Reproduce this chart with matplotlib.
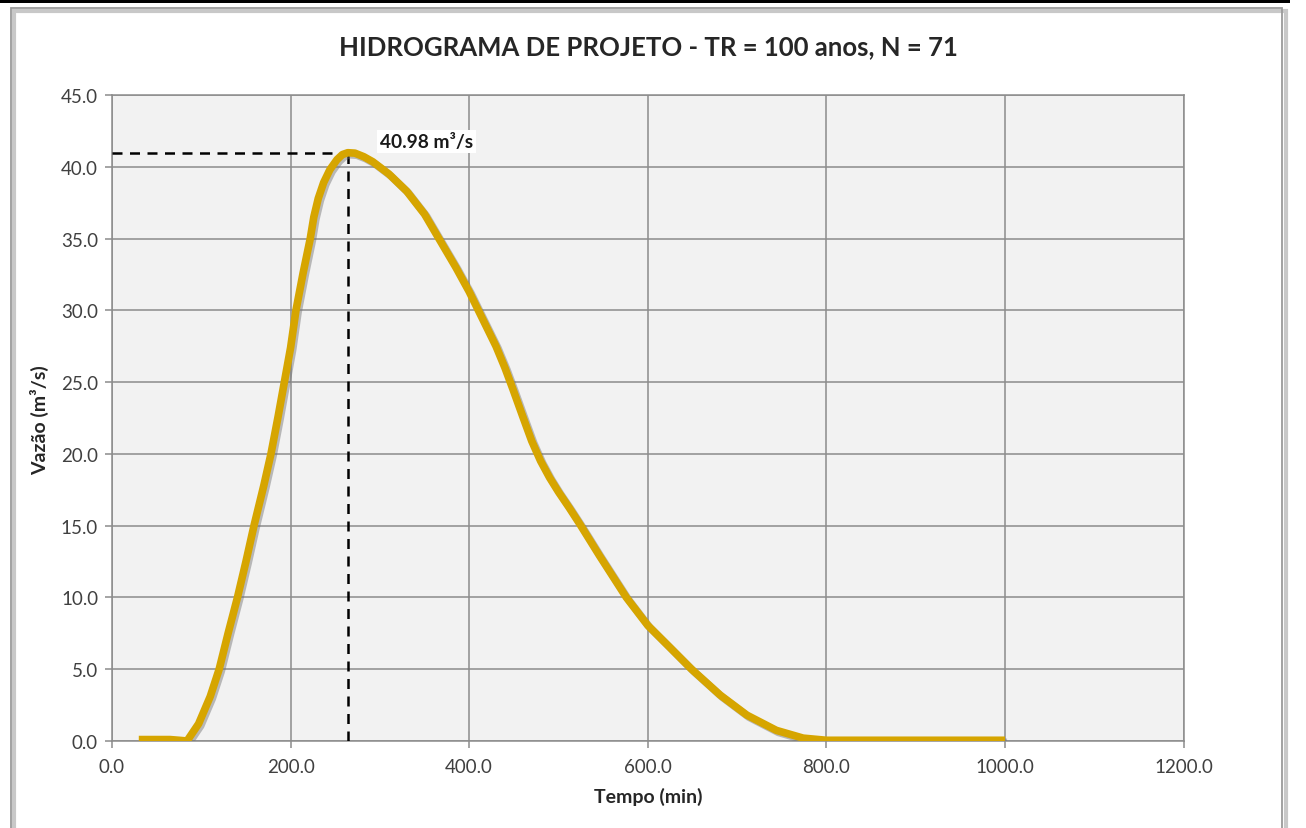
import matplotlib
matplotlib.use("Agg")
import matplotlib.pyplot as plt
import matplotlib.patheffects as pe
from matplotlib.patches import Rectangle

# ---- data ----
tempo_min = [30, 45, 65, 75, 84, 97, 110, 120, 130, 140.5, 150, 159, 170, 178, 186,
             193, 200, 206, 214, 222, 226, 231, 237, 244, 252, 258, 264, 272, 282,
             292, 310, 330, 350, 367, 385, 400, 415, 430, 440, 449, 460, 470, 480,
             490, 500, 512, 524, 546, 576, 600, 625, 649, 681, 711, 744, 774, 800,
             850, 900, 950, 1000]
vazao = [0.1, 0.1, 0.1, 0.05, 0.0, 1.2, 3.1, 5.0, 7.5, 10.0, 12.5, 15.0, 17.8, 20.0, 22.6,
         25.0, 27.4, 30.0, 32.6, 35.0, 36.5, 37.8, 38.9, 39.8, 40.5, 40.85, 40.98, 40.95, 40.7,
         40.35, 39.5, 38.3, 36.7, 34.9, 33.0, 31.3, 29.4, 27.5, 26.0, 24.5, 22.6, 20.9, 19.5,
         18.35, 17.35, 16.25, 15.1, 12.9, 10.0, 8.05, 6.5, 5.0, 3.2, 1.8, 0.74, 0.2, 0.05,
         0.05, 0.05, 0.05, 0.05]
pico_tempo = 264
pico_vazao = 40.98
x_ticks = [0, 200, 400, 600, 800, 1000, 1200]
y_ticks = [0, 5, 10, 15, 20, 25, 30, 35, 40, 45]
titulo = "HIDROGRAMA DE PROJETO - TR = 100 anos, N = 71"
rotulo_pico = "40.98 m³/s"

plt.rcParams['font.family'] = ['Lato', 'DejaVu Sans']

W, H = 1306, 829
fig = plt.figure(figsize=(W / 100, H / 100), dpi=100)
fig.patch.set_facecolor('white')

# outer frame elements
fig.patches.append(Rectangle((0, 1 - 4 / H), 1290 / W, 4 / H, transform=fig.transFigure,
                             facecolor='black', edgecolor='none', zorder=0))
fig.patches.append(Rectangle((14 / W, -0.05), (1272 / W), 1 - 12 / H + 0.05,
                             transform=fig.transFigure, facecolor='none',
                             edgecolor='#c8c8c8', lw=3, zorder=0))
fig.patches.append(Rectangle((11 / W, -0.05), (1271 / W), 1 - 9 / H + 0.05,
                             transform=fig.transFigure, facecolor='none',
                             edgecolor='#9a9a9a', lw=1.3, zorder=0))

left, right = 112 / W, 1183.6 / W
bottom, top = 1 - 742 / H, 1 - 96 / H
ax = fig.add_axes([left, bottom, right - left, top - bottom])
ax.set_facecolor('#f2f2f2')

ax.set_xlim(0, 1200)
ax.set_ylim(0, 45)
ax.set_xticks(x_ticks)
ax.set_yticks(y_ticks)
ax.set_xticklabels([f"{v:.1f}" for v in x_ticks])
ax.set_yticklabels([f"{v:.1f}" for v in y_ticks])
ax.grid(True, color='#8c8c8c', lw=1.1)
ax.set_axisbelow(True)
for s in ax.spines.values():
    s.set_color('#8c8c8c')
    s.set_linewidth(1.1)
ax.tick_params(axis='both', colors='#8c8c8c', labelcolor='#404040', labelsize=13.5,
               length=5, width=1.1, direction='out')
ax.tick_params(axis='y', pad=5)
ax.tick_params(axis='x', pad=7)

# dashed peak guides
ax.plot([0, pico_tempo], [pico_vazao, pico_vazao], color='black', lw=1.8,
        dashes=(4, 3), zorder=3)
ax.plot([pico_tempo, pico_tempo], [0, pico_vazao], color='black', lw=1.8,
        dashes=(4, 3), zorder=3)

ax.plot(tempo_min, vazao, color='#d6a500', lw=5.5, solid_joinstyle='round',
        solid_capstyle='butt', zorder=4,
        path_effects=[pe.SimpleLineShadow(offset=(1.5, -1.5), shadow_color='#707070', alpha=0.45),
                      pe.Normal()])

ax.text(300, 41.75, rotulo_pico, fontsize=13.8, fontweight='bold', color='#1a1a1a',
        ha='left', va='center', zorder=5,
        bbox=dict(boxstyle='square,pad=0.15', facecolor='white', edgecolor='none'))

fig.text(648 / W, 1 - 47 / H, titulo, ha='center', va='center', fontsize=18.5,
         fontweight='bold', color='#262626')
fig.text(648 / W, 1 - 797 / H, "Tempo (min)", ha='center', va='center', fontsize=14,
         fontweight='bold', color='#262626')
fig.text(40 / W, 1 - 420 / H, "Vazão (m³/s)", ha='center', va='center', fontsize=14,
         fontweight='bold', color='#262626', rotation=90)

fig.savefig('out.png', dpi=100)
